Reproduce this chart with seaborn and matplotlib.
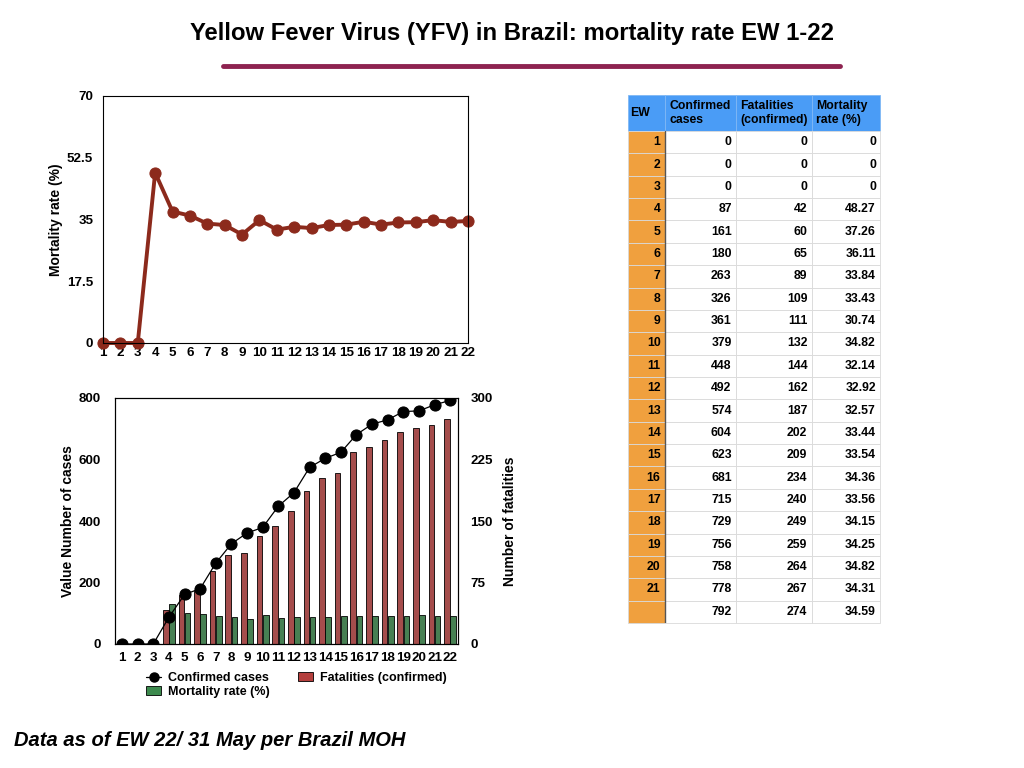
import numpy as np
import pandas as pd
import matplotlib
matplotlib.use("Agg")
import matplotlib.pyplot as plt
import seaborn as sns

# Epidemiological weeks and reported values
weeks = list(range(1, 23))
confirmed = [0, 0, 0, 87, 161, 180, 263, 326, 361, 379, 448, 492, 574, 604,
             623, 681, 715, 729, 756, 758, 778, 792]
fatalities = [0, 0, 0, 42, 60, 65, 89, 109, 111, 132, 144, 162, 187, 202,
              209, 234, 240, 249, 259, 264, 267, 274]
mortality = [0, 0, 0, 48.27, 37.26, 36.11, 33.84, 33.43, 30.74, 34.82, 32.14,
             32.92, 32.57, 33.44, 33.54, 34.36, 33.56, 34.15, 34.25, 34.82,
             34.31, 34.59]
table_ew = [str(w) for w in range(1, 22)] + [""]

sns.set_theme(style="white")
plt.rcParams["font.family"] = ["Liberation Sans", "DejaVu Sans"]
plt.rcParams["font.weight"] = "bold"
for key in ["text.color", "axes.labelcolor", "xtick.color", "ytick.color"]:
    plt.rcParams[key] = "black"

LINE_RED = "#8c2a1c"
BAR_RED = "#b43f3d"
BAR_GREEN = "#3d8a4e"
TICK_FS = 9.6
LABEL_FS = 10

fig = plt.figure(figsize=(10.24, 7.68), dpi=100)
fig.patch.set_facecolor("white")

# Title and rule
fig.text(0.5, 0.957, "Yellow Fever Virus (YFV) in Brazil: mortality rate EW 1-22",
         ha="center", va="center", fontsize=17.2, fontweight="bold")
fig.add_artist(plt.Line2D([223 / 1024, 840 / 1024], [1 - 66 / 768, 1 - 66 / 768],
                          color="#8e2350", lw=3.5))

# Footer
fig.text(14 / 1024, 1 - 741 / 768, "Data as of EW 22/ 31 May per Brazil MOH",
         ha="left", va="center", fontsize=14.5, fontweight="bold", style="italic")

# ---- Top chart: mortality rate line ----
df = pd.DataFrame({"EW": weeks, "Confirmed": confirmed,
                   "Fatalities": fatalities, "Mortality": mortality})

ax1 = fig.add_axes([103 / 1024, 1 - 343 / 768, 365 / 1024, 247 / 768])
sns.lineplot(data=df, x="EW", y="Mortality", ax=ax1, color=LINE_RED, lw=2.8,
             marker="o", markersize=8, markeredgecolor=LINE_RED, clip_on=False)
ax1.set_xlim(1, 22)
ax1.set_ylim(0, 70)
ax1.set_xticks(weeks)
ax1.set_yticks([0, 17.5, 35, 52.5, 70])
ax1.set_yticklabels(["0", "17.5", "35", "52.5", "70"])
ax1.set_xlabel("")
ax1.set_ylabel("Mortality rate (%)", fontsize=LABEL_FS, fontweight="bold", labelpad=3)
ax1.tick_params(axis="y", length=0, labelsize=TICK_FS, pad=7)
ax1.tick_params(axis="x", length=0, labelsize=TICK_FS, pad=3)
for s in ax1.spines.values():
    s.set_color("black")
    s.set_linewidth(0.8)

# ---- Bottom chart: cases, fatalities and mortality ----
ax2 = fig.add_axes([115 / 1024, 1 - 644 / 768, 343 / 1024, 246 / 768])
ax3 = ax2.twinx()

bars = df.melt(id_vars="EW", value_vars=["Fatalities", "Mortality"],
               var_name="Series", value_name="Value")
sns.barplot(data=bars, x="EW", y="Value", hue="Series", ax=ax3,
            native_scale=True, width=0.8, gap=0.1,
            palette={"Fatalities": BAR_RED, "Mortality": BAR_GREEN},
            edgecolor="black", linewidth=0.6, legend=False)

sns.lineplot(data=df, x="EW", y="Confirmed", ax=ax2, color="black", lw=0.9,
             marker="o", markersize=8, markeredgecolor="black", zorder=5)

ax2.set_zorder(ax3.get_zorder() + 1)
ax2.patch.set_visible(False)

ax2.set_xlim(0.55, 22.5)
ax2.set_ylim(0, 800)
ax3.set_ylim(0, 300)
ax2.set_xticks(weeks)
ax2.set_xticklabels([str(w) for w in weeks])
ax2.set_yticks([0, 200, 400, 600, 800])
ax3.set_yticks([0, 75, 150, 225, 300])
ax2.set_xlabel("")
ax3.set_xlabel("")
ax2.set_ylabel("Value Number of cases", fontsize=LABEL_FS, fontweight="bold", labelpad=3)
ax3.set_ylabel("Number of fatalities", fontsize=LABEL_FS, fontweight="bold", labelpad=7)
ax2.tick_params(axis="y", length=0, labelsize=TICK_FS, pad=10)
ax2.tick_params(axis="x", length=0, labelsize=TICK_FS, pad=6)
ax3.tick_params(length=0, labelsize=TICK_FS, pad=9)
for a in (ax2, ax3):
    for s in a.spines.values():
        s.set_color("black")
        s.set_linewidth(0.8)

h_cases = plt.Line2D([], [], color="black", lw=0.9, marker="o", markersize=6.5)
h_fat = matplotlib.patches.Patch(facecolor=BAR_RED, edgecolor="black", lw=0.6)
h_mort = matplotlib.patches.Patch(facecolor=BAR_GREEN, edgecolor="black", lw=0.6)
fig.legend([h_cases, h_mort, h_fat],
           ["Confirmed cases", "Mortality rate (%)", "Fatalities (confirmed)"],
           ncol=2, frameon=False, fontsize=9, loc="upper left",
           bbox_to_anchor=(146 / 1024, 1 - 672 / 768), handlelength=1.2,
           handletextpad=0.6, columnspacing=2.2, labelspacing=0.15,
           borderaxespad=0, borderpad=0)

# ---- Table ----
axt = fig.add_axes([628 / 1024, 1 - 623 / 768, 252 / 1024, 528 / 768])
axt.axis("off")
header = ["EW", "Confirmed\ncases", "Fatalities\n(confirmed)", "Mortality\nrate (%)"]
cells = [[table_ew[i], str(confirmed[i]), str(fatalities[i]),
          ("%g" % mortality[i]) if mortality[i] == 0 else "%.2f" % mortality[i]]
         for i in range(22)]
col_w = [37, 71, 76, 68]
tbl = axt.table(cellText=cells, colLabels=header, colWidths=[w / 252 for w in col_w],
                bbox=[0, 0, 1, 1], cellLoc="right")
tbl.auto_set_font_size(False)
head_h = 36 / 528
row_h = (1 - head_h) / 22
for (r, c), cell in tbl.get_celld().items():
    cell.set_height(head_h if r == 0 else row_h)
    cell.set_linewidth(0.6)
    txt = cell.get_text()
    txt.set_fontsize(8.8)
    txt.set_fontweight("bold")
    txt.set_color("black")
    if r == 0:
        cell.set_facecolor("#4a9cf6")
        cell.set_edgecolor("#7fb8f5")
        txt.set_ha("left")
        cell.PAD = 0.06
    elif c == 0:
        cell.set_facecolor("#f0a03e")
        cell.set_edgecolor("#d9d9d9")
        cell.PAD = 0.12
    else:
        cell.set_facecolor("white")
        cell.set_edgecolor("#d9d9d9")
        cell.PAD = 0.06
# dark separator between EW column and data
axt.add_line(plt.Line2D([37 / 252, 37 / 252], [0, 1 - head_h], color="#555555",
                        lw=1.0, transform=axt.transAxes))

fig.savefig("out.png", dpi=100, facecolor="white")
